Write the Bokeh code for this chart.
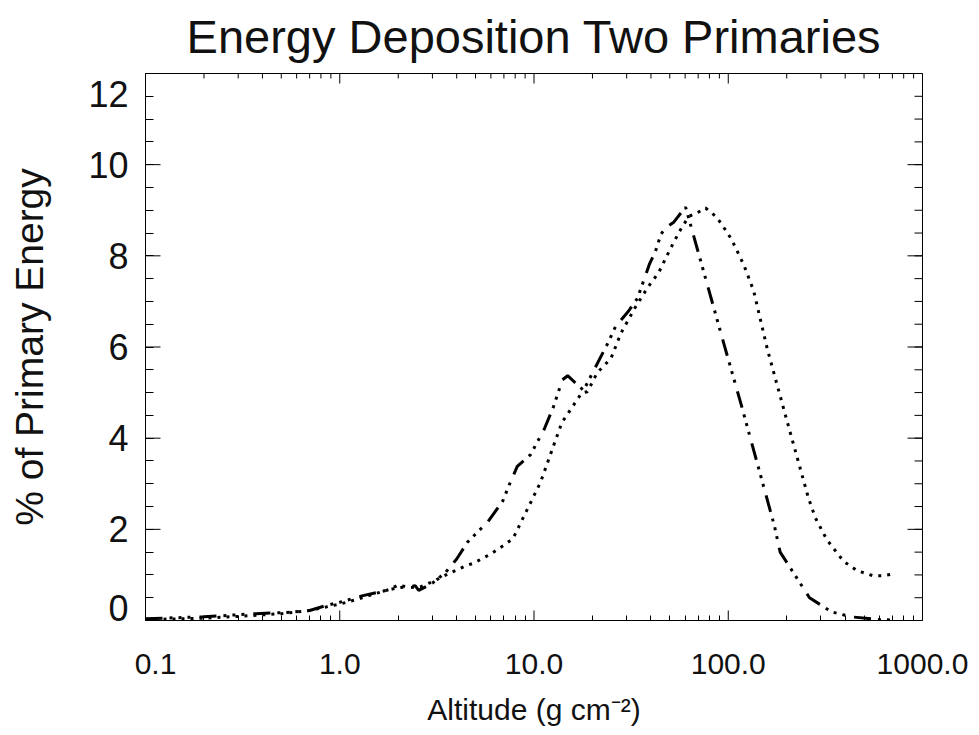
import math
from bokeh.plotting import figure
from bokeh.models import Range1d, FixedTicker
from bokeh.embed import file_html
from bokeh.resources import INLINE

# ---- data ----
alt_a = [0.1, 0.2, 0.37, 0.55, 0.7, 0.87, 1.0, 1.3, 1.65, 2.0, 2.45, 2.55, 3.0, 3.5, 4.0,
         4.55, 5.8, 6.9, 7.5, 8.2, 9.6, 11.3, 12.6, 14.0, 14.9, 18.0, 20.0, 23.9, 26.3,
         30.7, 34.1, 39.4, 42.2, 45.0, 47.7, 52.2, 60.3, 97.0, 116.0, 173.0, 185.0,
         262.0, 340.0, 430.0, 600.0, 720.0]
dep_a = [0.04, 0.08, 0.15, 0.18, 0.22, 0.34, 0.40, 0.54, 0.64, 0.72, 0.76, 0.66, 0.82, 1.05,
         1.35, 1.72, 2.17, 2.62, 3.0, 3.38, 3.64, 4.2, 4.69, 5.28, 5.37, 5.05, 5.43, 6.07,
         6.45, 6.79, 7.07, 7.83, 8.1, 8.47, 8.62, 8.73, 9.07, 5.93, 4.77, 2.07, 1.5,
         0.5, 0.19, 0.08, 0.02, 0.01]

alt_b = [0.1, 0.2, 0.3, 0.5, 0.7, 1.0, 1.2, 1.5, 1.8, 2.0, 2.3, 2.6, 3.0, 3.6, 4.4, 4.9,
         6.0, 7.1, 7.8, 10.8, 13.9, 17.6, 18.8, 20.0, 21.1, 24.9, 28.0, 33.0, 38.4, 43.8,
         50.7, 56.0, 62.5, 69.5, 76.4, 86.6, 92.3, 104.0, 120.0, 135.0, 159.0, 200.0,
         259.0, 281.0, 321.0, 392.0, 462.0, 559.0, 620.0, 710.0]
dep_b = [0.02, 0.05, 0.09, 0.15, 0.22, 0.36, 0.45, 0.58, 0.68, 0.78, 0.72, 0.74, 0.85, 1.02,
         1.19, 1.26, 1.46, 1.67, 1.8, 3.03, 4.34, 4.99, 5.02, 5.23, 5.43, 5.75, 6.3, 6.85,
         7.3, 7.63, 8.18, 8.53, 8.86, 8.95, 9.05, 8.86, 8.7, 8.36, 7.81, 7.24, 5.95, 4.4,
         2.68, 2.25, 1.78, 1.3, 1.09, 0.98, 0.98, 1.02]

x_ticks = [0.1, 1, 10, 100, 1000]
x_tick_labels = ["0.1", "1.0", "10.0", "100.0", "1000.0"]
x_minor = [m * d for d in [0.1, 1, 10, 100] for m in range(2, 10)]
y_ticks = [0, 2, 4, 6, 8, 10, 12]
y_tick_labels = ["0", "2", "4", "6", "8", "10", "12"]
y_minor = [i * 0.5 for i in range(0, 25)]

X_MIN, X_MAX = 0.1, 1000
Y_MIN, Y_MAX = 0, 12

FONT = "Liberation Sans"
INK = "#111111"

FRAME_W, FRAME_H = 777, 548
px_per_y = FRAME_H / (Y_MAX - Y_MIN)
px_per_decade = FRAME_W / math.log10(X_MAX / X_MIN)

# As in the original, the end labels of the axes are nudged inward from their ticks
# (first x label 10px right, lowest y label 13px up, top y label 21px down).
x_label_pos = list(x_ticks)
x_label_pos[0] = x_ticks[0] * 10 ** (10 / px_per_decade)
y_label_pos = list(y_ticks)
y_label_pos[0] = y_ticks[0] + 13 / px_per_y
y_label_pos[-1] = y_ticks[-1] - 21 / px_per_y

p = figure(width=970, height=735, x_axis_type="log",
           x_range=Range1d(X_MIN, X_MAX), y_range=Range1d(Y_MIN, Y_MAX),
           output_backend="svg", toolbar_location=None,
           min_border_left=145, min_border_right=48,
           min_border_top=72, min_border_bottom=115)
p.grid.visible = False
p.outline_line_color = "black"
p.outline_line_width = 1
p.background_fill_color = "white"
p.border_fill_color = "white"

p.title.text = "Energy Deposition Two Primaries"
p.title.align = "center"
p.title.vertical_align = "top"
p.title.text_font = FONT
p.title.text_font_size = "47px"
p.title.text_font_style = "normal"
p.title.text_line_height = 0.8
p.title.text_color = INK
p.title.standoff = 18

xa = p.xaxis[0]
xa.ticker = FixedTicker(ticks=x_label_pos, minor_ticks=x_minor)
xa.major_label_overrides = {t: s for t, s in zip(x_label_pos, x_tick_labels)}
xa.major_tick_in = 0
xa.major_tick_out = 0
xa.minor_tick_in = 5
xa.minor_tick_out = 0
xa.axis_line_color = "black"
xa.major_label_text_font = FONT
xa.major_label_text_font_size = "30px"
xa.major_label_text_color = INK
xa.major_label_standoff = 33
xa.axis_label = "Altitude (g cm\u207b\u00b2)"
xa.axis_label_text_font = FONT
xa.axis_label_text_font_size = "30px"
xa.axis_label_text_font_style = "normal"
xa.axis_label_text_line_height = 0.8
xa.axis_label_text_color = INK
xa.axis_label_standoff = 16

ya = p.yaxis[0]
ya.ticker = FixedTicker(ticks=y_label_pos, minor_ticks=y_minor)
ya.major_label_overrides = {t: s for t, s in zip(y_label_pos, y_tick_labels)}
ya.major_tick_in = 0
ya.major_tick_out = 0
ya.minor_tick_in = 8
ya.minor_tick_out = 0
ya.axis_line_color = "black"
ya.major_label_text_font = FONT
ya.major_label_text_font_size = "36px"
ya.major_label_text_color = INK
ya.major_label_standoff = 17
ya.axis_label = "% of Primary Energy"
ya.axis_label_text_font = FONT
ya.axis_label_text_font_size = "39px"
ya.axis_label_text_font_style = "normal"
ya.axis_label_text_color = INK
ya.axis_label_standoff = 34

# major ticks (inward) on all four sides, minor ticks on top and right
def ticks(xs, ys, length, angle):
    p.ray(x=xs, y=ys, length=length, length_units="screen", angle=angle,
          line_color="black", line_width=1)

ticks(x_ticks, [Y_MIN] * len(x_ticks), 10, math.pi / 2)
ticks(x_ticks, [Y_MAX] * len(x_ticks), 10, -math.pi / 2)
ticks(x_minor, [Y_MAX] * len(x_minor), 5, -math.pi / 2)
ticks([X_MIN] * len(y_ticks), y_ticks, 15, 0)
ticks([X_MAX] * len(y_ticks), y_ticks, 15, math.pi)
ticks([X_MAX] * len(y_minor), y_minor, 8, math.pi)

p.line(alt_a, dep_a, line_color="black", line_width=3,
       line_dash="17 7 3 6 3 6 3 9")
p.line(alt_b, dep_b, line_color="black", line_width=3,
       line_dash="3 6")

open("out.html", "w").write(file_html(p, INLINE))
